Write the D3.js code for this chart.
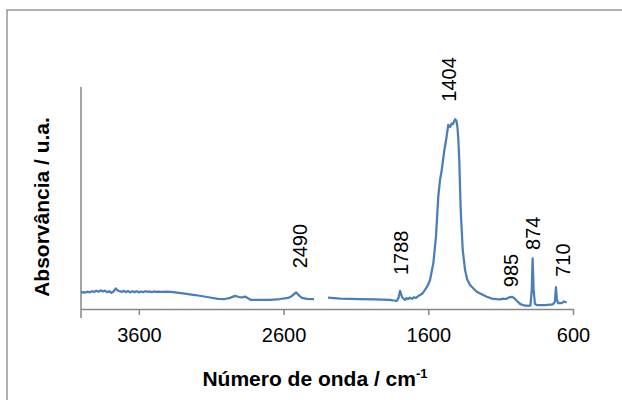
<!DOCTYPE html>
<html>
<head>
<meta charset="utf-8">
<script src="https://cdn.jsdelivr.net/npm/d3@7"></script>
<style>
  html, body { margin: 0; padding: 0; background: #fff; }
  svg { display: block; font-family: "Liberation Sans", Arial, sans-serif; }
</style>
</head>
<body>
<svg id="chart" width="622" height="400"></svg>
<script>
// ---- data ----
const wavenumbers = [4000,3985,3970,3955,3940,3925,3910,3895,3880,3865,3850,3835,3820,3805,3790,3775,3760,3750,3737,3720,3705,3690,3675,3660,3645,3630,3615,3600,3585,3570,3555,3540,3525,3510,3495,3480,3465,3440,3410,3378,
  3295,3212,3129,3053,3005,2970,2936,2908,2887,2867,2825,2763,2694,2625,2569,2542,2514,2494,2473,2438,2390,2380,
  2293,2210,2072,1968,1865,1818,1806,1795,1782,1770,1761,1750,1740,1728,1712,1700,1685,1670,1657,1640,1623,1602,1588,1565,1547,1531,1519,1507,1491,1477,1462,1450,1438,1429,1415,1405,1399,1392,1386,1376,1362,1346,1332,1312,1265,1228,1196,1160,1127,1104,1081,1063,1042,1023,1007,987,966,939,909,894,885,879,872,863,849,794,739,725,718,711,702,676,663,644];
const absorbance = [0.073,0.076,0.074,0.078,0.075,0.080,0.077,0.082,0.078,0.084,0.079,0.083,0.076,0.080,0.073,0.079,0.093,0.085,0.081,0.077,0.082,0.076,0.081,0.075,0.080,0.076,0.080,0.075,0.079,0.076,0.080,0.077,0.079,0.076,0.079,0.077,0.078,0.077,0.078,0.077,
  0.070,0.063,0.054,0.046,0.045,0.050,0.059,0.054,0.052,0.056,0.041,0.041,0.041,0.045,0.050,0.059,0.075,0.061,0.050,0.046,0.045,null,
  0.051,0.047,0.044,0.043,0.041,0.036,0.050,0.082,0.054,0.046,0.041,0.049,0.045,0.051,0.046,0.053,0.050,0.058,0.063,0.070,0.086,0.108,0.131,0.207,0.326,0.506,0.581,0.626,0.707,0.761,0.829,0.820,0.836,0.833,0.855,0.847,0.821,0.761,0.671,0.446,0.266,0.176,0.135,0.108,0.078,0.065,0.055,0.047,0.044,0.043,0.047,0.045,0.052,0.055,0.050,0.036,0.023,0.016,0.014,0.016,0.086,0.228,0.086,0.023,0.018,0.018,0.021,0.032,0.098,0.041,0.026,0.027,0.034,0.029];

const xTicks = [3600, 2600, 1600, 600];
const peakLabels = ["2490", "1788", "1404", "985", "874", "710"];
const peakLabelWn = [2487, 1788, 1457, 1028, 876, 673];
const peakLabelLevel = [0.183, 0.153, 0.934, 0.098, 0.266, 0.145];

const xTitle = "Número de onda / cm";
const xTitleSup = "-1";
const yTitle = "Absorvância / u.a.";

// ---- drawing ----
const svg = d3.select("#chart");
const axisColor = "#868686";
const lineColor = "#4a7ebb";

// outer chart border (extends past the picture on right/bottom)
svg.append("rect")
  .attr("x", 7).attr("y", 10).attr("width", 640).attr("height", 420)
  .attr("fill", "none").attr("stroke", axisColor).attr("stroke-width", 1.3);

const x = d3.scaleLinear().domain([4000, 600]).range([81, 573]);
const y = d3.scaleLinear().domain([0, 1]).range([309, 87]);

// y axis line (no ticks / labels)
svg.append("line")
  .attr("x1", x(4000)).attr("x2", x(4000))
  .attr("y1", y(1)).attr("y2", y(0) + 9)
  .attr("stroke", axisColor).attr("stroke-width", 1.5);

// x axis
const xAxis = d3.axisBottom(x).tickValues(xTicks).tickSizeInner(6).tickSizeOuter(0).tickPadding(13)
  .tickFormat(d3.format("d"));
const gx = svg.append("g").attr("transform", `translate(0,${y(0)})`).call(xAxis);
gx.select(".domain").attr("stroke", axisColor).attr("stroke-width", 1.5);
gx.selectAll(".tick line").attr("stroke", axisColor).attr("stroke-width", 1.5);
gx.selectAll(".tick text")
  .attr("fill", "#000")
  .style("font-family", "'Liberation Sans', Arial, sans-serif")
  .style("font-size", "20px");

// spectrum
const pts = wavenumbers.map((w, i) => ({ w, a: absorbance[i] }));
const line = d3.line()
  .defined(d => d.a !== null)
  .x(d => x(d.w))
  .y(d => y(d.a));
svg.append("path")
  .datum(pts)
  .attr("d", line)
  .attr("fill", "none")
  .attr("stroke", lineColor)
  .attr("stroke-width", 2.25)
  .attr("stroke-linejoin", "round");

// peak labels (rotated)
peakLabels.forEach((t, i) => {
  svg.append("text")
    .attr("transform", `translate(${x(peakLabelWn[i])},${y(peakLabelLevel[i])}) rotate(-90)`)
    .attr("text-anchor", "start")
    .attr("dy", "0.36em")
    .style("font-size", "20px")
    .attr("fill", "#000")
    .text(t);
});

// axis titles
const xt = svg.append("text")
  .attr("x", 315).attr("y", 386)
  .attr("text-anchor", "middle")
  .style("font-size", "21px").style("font-weight", "bold")
  .attr("fill", "#000");
xt.append("tspan").text(xTitle);
xt.append("tspan").attr("dy", -8).style("font-size", "13px").text(xTitleSup);

svg.append("text")
  .attr("transform", "translate(41,207) rotate(-90)")
  .attr("text-anchor", "middle")
  .attr("dy", "0.36em")
  .style("font-size", "21px").style("font-weight", "bold")
  .attr("fill", "#000")
  .text(yTitle);
</script>
</body>
</html>
